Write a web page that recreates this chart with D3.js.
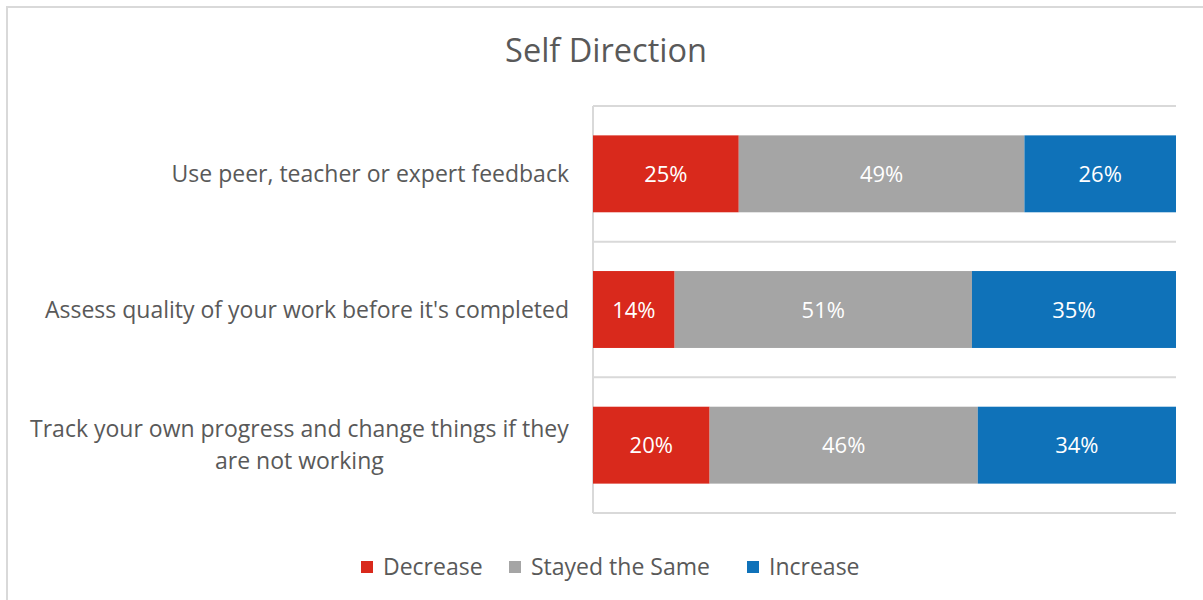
<!DOCTYPE html>
<html>
<head>
<meta charset="utf-8">
<script src="https://cdn.jsdelivr.net/npm/d3@7"></script>
<style>
  body { margin: 0; background: #fff; }
  text { font-family: "Open Sans", sans-serif; }
</style>
</head>
<body>
<script>
const width = 1203, height = 600;

// data
const categories = [
  "Use peer, teacher or expert feedback",
  "Assess quality of your work before it's completed",
  "Track your own progress and change things if they are not working"
];
const seriesNames = ["Decrease", "Stayed the Same", "Increase"];
const decrease = [25, 14, 20];
const stayed = [49, 51, 46];
const increase = [26, 35, 34];
const colors = ["#D9291C", "#A5A5A5", "#0F72B9"];

// wrapped category label lines
const labelLines = [
  ["Use peer, teacher or expert feedback"],
  ["Assess quality of your work before it's completed"],
  ["Track your own progress and change things if they", "are not working"]
];

const rows = categories.map((c, i) => ({
  cat: c, Decrease: decrease[i], "Stayed the Same": stayed[i], Increase: increase[i]
}));
const stack = d3.stack().keys(seriesNames)(rows);

const plot = {left: 593, right: 1176, top: 106, bottom: 513};

const svg = d3.select("body").append("svg")
  .attr("width", width).attr("height", height);

// outer border
svg.append("rect")
  .attr("x", 7).attr("y", 7)
  .attr("width", width + 10).attr("height", height + 10)
  .attr("fill", "#fff").attr("stroke", "#D9D9D9").attr("stroke-width", 2);

svg.append("text")
  .attr("x", 606).attr("y", 62)
  .attr("text-anchor", "middle")
  .attr("fill", "#595959")
  .attr("font-size", 32.5)
  .text("Self Direction");

let x = d3.scaleLinear().domain([0, 100]).range([plot.left, plot.right]);
let y = d3.scaleBand().domain(categories).range([plot.top, plot.bottom]).paddingInner(0.433).paddingOuter(0.2165);

// gridlines between categories
const gridY = [plot.top, plot.top + (plot.bottom - plot.top) / 3, plot.top + 2 * (plot.bottom - plot.top) / 3, plot.bottom];
svg.selectAll(".grid")
  .data(gridY)
  .enter()
  .append("line")
  .attr("class", "grid")
  .attr("x1", plot.left).attr("x2", plot.right)
  .attr("y1", d => d).attr("y2", d => d)
  .attr("stroke", "#D9D9D9").attr("stroke-width", 2);

svg.append("line")
  .attr("x1", plot.left).attr("x2", plot.left)
  .attr("y1", plot.top).attr("y2", plot.bottom)
  .attr("stroke", "#D9D9D9").attr("stroke-width", 2);

const layers = svg.selectAll(".layer")
  .data(stack)
  .enter()
  .append("g")
  .attr("class", "layer")
  .attr("fill", (d, i) => colors[i]);

layers.selectAll("rect")
  .data(d => d)
  .enter()
  .append("rect")
  .attr("x", d => x(d[0]))
  .attr("width", d => x(d[1]) - x(d[0]))
  .attr("y", d => y(d.data.cat))
  .attr("height", y.bandwidth());

layers.selectAll(".val")
  .data(d => d)
  .enter()
  .append("text")
  .attr("class", "val")
  .attr("x", d => (x(d[0]) + x(d[1])) / 2)
  .attr("y", d => y(d.data.cat) + y.bandwidth() / 2 + 8)
  .attr("text-anchor", "middle")
  .attr("fill", "#fff")
  .attr("font-size", 22)
  .text(d => (d[1] - d[0]) + "%");

// category labels
categories.forEach((c, i) => {
  const lines = labelLines[i];
  const cy = y(c) + y.bandwidth() / 2;
  const lh = 32;
  const t = svg.append("text")
    .attr("fill", "#595959")
    .attr("font-size", 23)
    .attr("text-anchor", "middle");
  lines.forEach((l, j) => {
    t.append("tspan")
      .attr("x", 0)
      .attr("y", cy + 8 + (j - (lines.length - 1) / 2) * lh)
      .text(l);
  });
  // right-align the block at 569, lines centred within it
  const w = t.node().getBBox().width;
  t.selectAll("tspan").attr("x", 569 - w / 2);
});

// legend
const legendX = [361, 509, 747];
const legend = svg.selectAll(".legend")
  .data(seriesNames)
  .enter()
  .append("g")
  .attr("class", "legend")
  .attr("transform", (d, i) => "translate(" + legendX[i] + ",561)");

legend.append("rect")
  .attr("width", 12).attr("height", 12)
  .attr("fill", (d, i) => colors[i]);

legend.append("text")
  .attr("x", 22).attr("y", 14)
  .attr("fill", "#595959")
  .attr("font-size", 23)
  .text(d => d);
</script>
</body>
</html>
